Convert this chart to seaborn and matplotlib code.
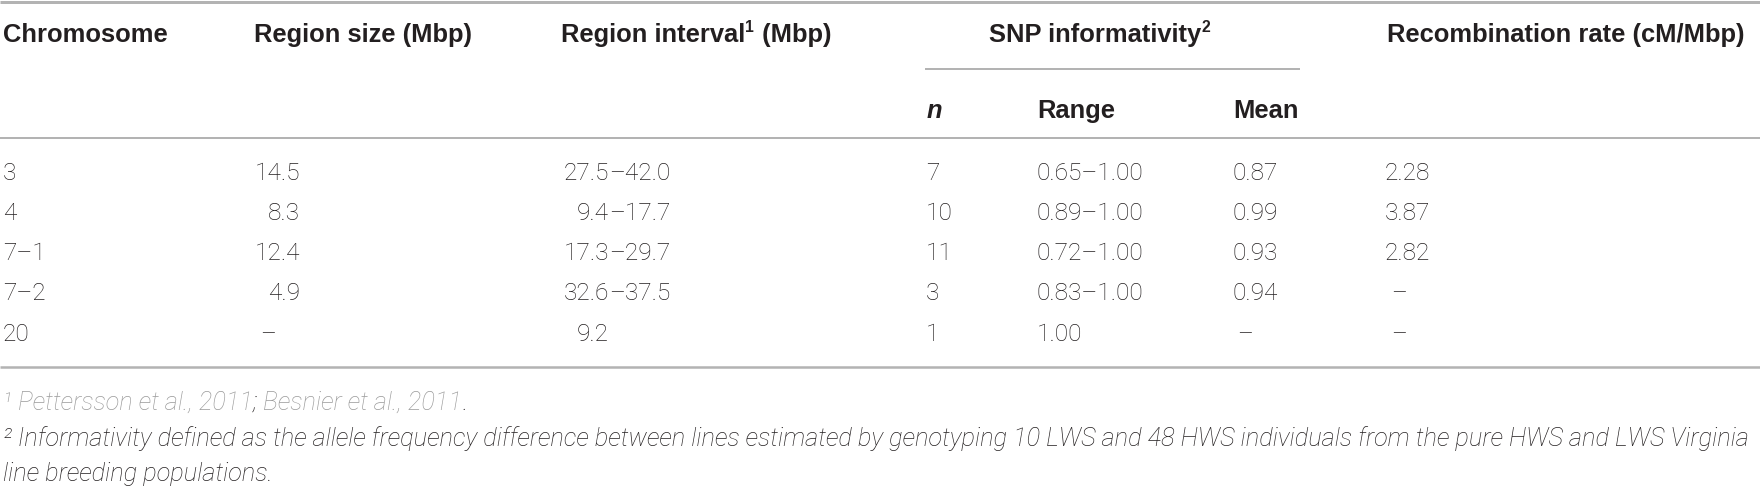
import matplotlib
matplotlib.use("Agg")
import matplotlib.pyplot as plt
import seaborn as sns

# ---------------- data ----------------
chromosome = ["3", "4", "7–1", "7–2", "20"]
region_size = ["14.5", "8.3", "12.4", "4.9", "–"]
region_interval = ["27.5–42.0", "9.4–17.7", "17.3–29.7", "32.6–37.5", "9.2"]
snp_n = ["7", "10", "11", "3", "1"]
snp_range = ["0.65–1.00", "0.89–1.00", "0.72–1.00", "0.83–1.00", "1.00"]
snp_mean = ["0.87", "0.99", "0.93", "0.94", "–"]
recomb_rate = ["2.28", "3.87", "2.82", "–", "–"]

# header texts: (text, is_superscript) pieces
header_chrom = [("Chromosome", False)]
header_size = [("Region size (Mbp)", False)]
header_interval = [("Region interval", False), ("1", True), (" (Mbp)", False)]
header_snp = [("SNP informativity", False), ("2", True)]
header_recomb = [("Recombination rate (cM/Mbp)", False)]
header_sub = ["n", "Range", "Mean"]
footnote1_parts = ["¹ ", "Pettersson et al., 2011", ";", " Besnier et al., 2011", "."]
footnote2_lines = [
    "² Informativity defined as the allele frequency difference between lines estimated by "
    "genotyping 10 LWS and 48 HWS individuals from the pure HWS and LWS Virginia",
    "line breeding populations.",
]

# ---------------- style ----------------
sns.set_theme(style="white")
W, H, DPI = 1760, 491, 100


def pt(px):
    return px * 72.0 / DPI


DARK = "#231f20"
GRAY_TXT = "#9a9a9a"
RULE = "#b3b3b3"
HEAD_PX = 25.5
HEAD = dict(family=["Liberation Sans", "DejaVu Sans"], weight="bold", size=pt(HEAD_PX), color=DARK)
DATA = dict(family=["Roboto", "Liberation Sans", "DejaVu Sans"], weight="light", size=pt(24.5), color=DARK)
FOOT = dict(family=["Roboto", "Liberation Sans", "DejaVu Sans"], weight="light", style="italic",
            size=pt(25.6), color=DARK)

fig = plt.figure(figsize=(W / DPI, H / DPI), dpi=DPI)
ax = fig.add_axes([0, 0, 1, 1])
ax.set_xlim(0, W)
ax.set_ylim(H, 0)
ax.axis("off")
fig.canvas.draw()
renderer = fig.canvas.get_renderer()


def draw_pieces(x, y, pieces, style, align="left"):
    objs = []
    cx = x
    for txt, sup in pieces:
        kw = dict(style)
        yy = y
        if sup:
            kw["size"] = style["size"] * 0.62
            yy = y - HEAD_PX * 0.40
        t = ax.text(cx, yy, txt, ha="left", va="baseline", **kw)
        bb = t.get_window_extent(renderer=renderer)
        cx = bb.x1 + (1.0 if sup else 0.0)
        objs.append(t)
    total = cx - x
    if align == "center":
        for t in objs:
            t.set_x(t.get_position()[0] - total / 2.0)
    return objs


# rules
ax.plot([0, W], [1.5, 1.5], color=RULE, lw=pt(3), solid_capstyle="butt")
ax.plot([925, 1300], [69, 69], color=RULE, lw=pt(2), solid_capstyle="butt")
ax.plot([0, W], [138, 138], color=RULE, lw=pt(2), solid_capstyle="butt")
ax.plot([0, W], [367, 367], color=RULE, lw=pt(2.5), solid_capstyle="butt")

# headers
head_base = 42
draw_pieces(3, head_base, header_chrom, HEAD)
draw_pieces(254, head_base, header_size, HEAD)
draw_pieces(561, head_base, header_interval, HEAD)
draw_pieces(1100, head_base, header_snp, HEAD, align="center")
draw_pieces(1387, head_base, header_recomb, HEAD)

sub_base = 118
ax.text(927, sub_base, header_sub[0], ha="left", va="baseline", **{**HEAD, "style": "italic"})
ax.text(1037, sub_base, header_sub[1], ha="left", va="baseline", **HEAD)
ax.text(1233, sub_base, header_sub[2], ha="left", va="baseline", **HEAD)

# data rows
row_base = [180, 220, 260, 300, 341]
for i, yb in enumerate(row_base):
    ax.text(3, yb, chromosome[i], ha="left", va="baseline", **DATA)

    v = region_size[i]
    if v == "–":
        ax.text(268, yb, v, ha="center", va="baseline", **DATA)
    else:
        ax.text(300, yb, v, ha="right", va="baseline", **DATA)

    v = region_interval[i]
    dash_x = 609
    if "–" in v:
        left, right = v.split("–")
        ax.text(dash_x, yb, left, ha="right", va="baseline", **DATA)
        ax.text(dash_x, yb, "–" + right, ha="left", va="baseline", **DATA)
    else:
        ax.text(dash_x, yb, v, ha="right", va="baseline", **DATA)

    ax.text(926, yb, snp_n[i], ha="left", va="baseline", **DATA)
    ax.text(1037, yb, snp_range[i], ha="left", va="baseline", **DATA)

    v = snp_mean[i]
    if v == "–":
        ax.text(1245, yb, v, ha="center", va="baseline", **DATA)
    else:
        ax.text(1232, yb, v, ha="left", va="baseline", **DATA)

    v = recomb_rate[i]
    if v == "–":
        ax.text(1399, yb, v, ha="center", va="baseline", **DATA)
    else:
        ax.text(1385, yb, v, ha="left", va="baseline", **DATA)

# footnotes: fit the long line into the table width
probe = ax.text(3, 446, footnote2_lines[0], ha="left", va="baseline", **FOOT)
bb = probe.get_window_extent(renderer=renderer)
limit = W - 6
if bb.x1 > limit:
    FOOT["size"] = FOOT["size"] * (limit - 3) / (bb.x1 - 3)
    probe.set_fontsize(FOOT["size"])

x = 3
fn1_base = 410
colors1 = [GRAY_TXT, GRAY_TXT, DARK, GRAY_TXT, DARK]
for part, col in zip(footnote1_parts, colors1):
    t = ax.text(x, fn1_base, part, ha="left", va="baseline", **{**FOOT, "color": col})
    bb = t.get_window_extent(renderer=renderer)
    x = bb.x1

ax.text(3, 481, footnote2_lines[1], ha="left", va="baseline", **FOOT)

fig.savefig("out.png", dpi=DPI)
